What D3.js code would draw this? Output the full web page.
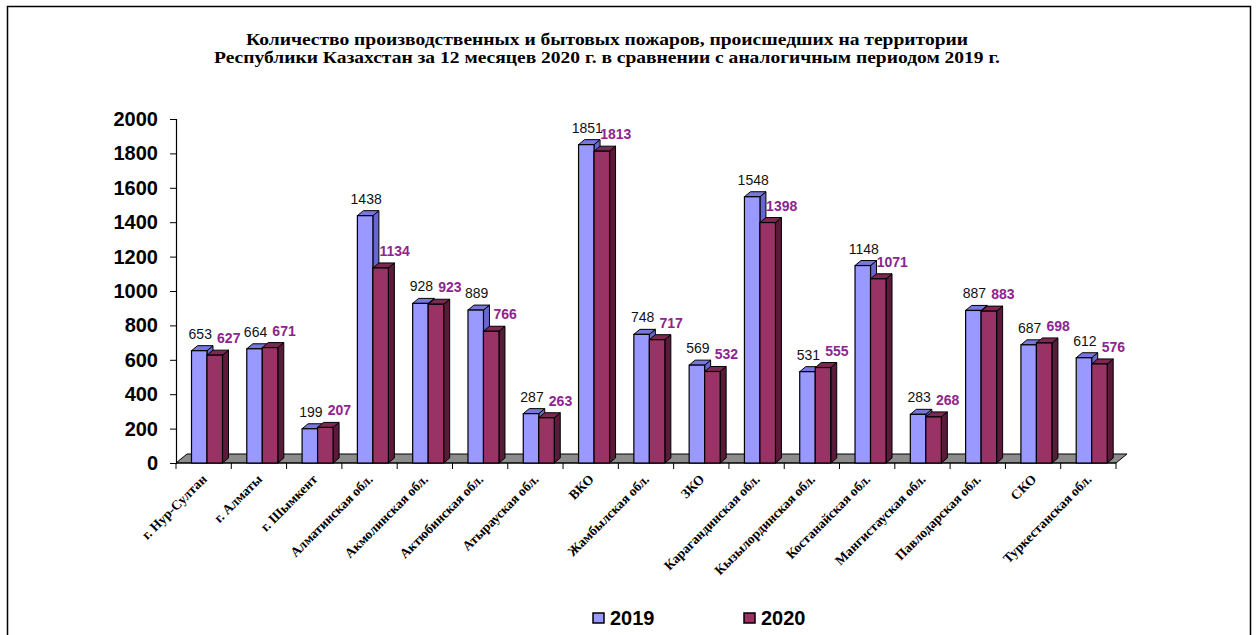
<!DOCTYPE html>
<html>
<head>
<meta charset="utf-8">
<script src="https://cdn.jsdelivr.net/npm/d3@7"></script>
<style>
  body { margin: 0; background: #fff; }
  svg { display: block; }
</style>
</head>
<body>
<div id="chart"></div>
<script>
'use strict';

// Daten
var regions = ["г. Нур-Султан", "г. Алматы", "г. Шымкент", "Алматинская обл.", "Акмолинская обл.",
    "Актюбинская обл.", "Атырауская обл.", "ВКО", "Жамбылская обл.", "ЗКО", "Карагандинская обл.",
    "Кызылординская обл.", "Костанайская обл.", "Мангистауская обл.", "Павлодарская обл.", "СКО",
    "Туркестанская обл."];
var fires2019 = [653, 664, 199, 1438, 928, 889, 287, 1851, 748, 569, 1548, 531, 1148, 283, 887, 687, 612];
var fires2020 = [627, 671, 207, 1134, 923, 766, 263, 1813, 717, 532, 1398, 555, 1071, 268, 883, 698, 576];
var seriesNames = ["2019", "2020"];
var yTicks = [0, 200, 400, 600, 800, 1000, 1200, 1400, 1600, 1800, 2000];

var width = 1256, height = 635;

var svg = d3.select("#chart")
    .append("svg")
    .attr("width", width)
    .attr("height", height);

// Rahmen (unten offen)
svg.append("path")
    .attr("d", "M7.5,640 L7.5,6.5 L1250.5,6.5 L1250.5,640")
    .attr("fill", "none")
    .attr("stroke", "#000")
    .attr("stroke-width", 1.5);

// Titel
var title = svg.append("g")
    .style("font-family", "'Liberation Serif', 'Times New Roman', serif")
    .style("font-weight", "bold")
    .style("font-size", "16px")
    .attr("text-anchor", "middle");

title.append("text")
    .attr("x", 607).attr("y", 45)
    .attr("textLength", 722).attr("lengthAdjust", "spacingAndGlyphs")
    .text("Количество производственных и бытовых пожаров, происшедших на территории");
title.append("text")
    .attr("x", 607).attr("y", 63)
    .attr("textLength", 786).attr("lengthAdjust", "spacingAndGlyphs")
    .text("Республики Казахстан за 12 месяцев 2020 г. в сравнении с аналогичным периодом 2019 г.");

var x0 = 176, x1 = 1116;
var x = d3.scaleBand()
    .domain(regions)
    .range([x0, x1])
    .padding(0);

var xInner = d3.scaleBand()
    .domain(seriesNames)
    .range([15.5, 46.5]);

var y = d3.scaleLinear()
    .domain([0, 2000])
    .range([463, 119]);

var depth = { dx: 6, dy: -5 };
var floorDepth = { dx: 11, dy: -9 };

var colors = {
    "2019": { front: "#9999FF", top: "#7777DD", side: "#6666CC" },
    "2020": { front: "#993366", top: "#7A2952", side: "#5A1A3A" }
};

// Boden
svg.append("polygon")
    .attr("points", [
        [x0, y(0)], [x1, y(0)],
        [x1 + floorDepth.dx, y(0) + floorDepth.dy],
        [x0 + floorDepth.dx, y(0) + floorDepth.dy]
    ].map(p => p.join(",")).join(" "))
    .attr("fill", "#8c8c8c")
    .attr("stroke", "#000")
    .attr("stroke-width", 1);

// Y-Achse
var yAxis = d3.axisLeft(y)
    .tickValues(yTicks)
    .tickFormat(d3.format("d"))
    .tickSize(6)
    .tickPadding(12);

var gy = svg.append("g")
    .attr("transform", "translate(" + x0 + ",0)")
    .call(yAxis);
gy.select(".domain").attr("stroke", "#000").attr("stroke-width", 1.2);
gy.selectAll(".tick line").attr("stroke", "#000");
gy.selectAll(".tick text")
    .style("font-family", "Arial, 'Liberation Sans', sans-serif")
    .style("font-weight", "bold")
    .style("font-size", "20px")
    .attr("fill", "#000");

// X-Achse
var gx = svg.append("g")
    .attr("transform", "translate(0," + y(0) + ")");

gx.append("line")
    .attr("x1", x0).attr("x2", x1)
    .attr("stroke", "#000");

gx.selectAll(".xtick")
    .data(regions.concat(["end"]))
    .enter().append("line")
    .attr("class", "xtick")
    .attr("x1", (d, i) => x0 + i * x.step())
    .attr("x2", (d, i) => x0 + i * x.step())
    .attr("y1", 0).attr("y2", 6)
    .attr("stroke", "#000");

gx.selectAll(".xlabel")
    .data(regions)
    .enter().append("text")
    .attr("class", "xlabel")
    .attr("transform", d => "translate(" + (x(d) + x.bandwidth() / 2 + 4) + ",17) rotate(-45)")
    .attr("text-anchor", "end")
    .style("font-family", "'Liberation Serif', 'Times New Roman', serif")
    .style("font-weight", "bold")
    .style("font-size", "13.5px")
    .text(d => d);

// Balken (3D)
var rows = regions.map((r, i) => ({ region: r, values: [
    { key: "2019", value: fires2019[i] },
    { key: "2020", value: fires2020[i] }
] }));

var groups = svg.append("g")
    .selectAll("g")
    .data(rows)
    .enter().append("g")
    .attr("transform", d => "translate(" + x(d.region) + ",0)");

function pts(a) {
    return a.map(p => p.join(",")).join(" ");
}

var bars = groups.selectAll("g.bar")
    .data(d => d.values)
    .enter().append("g")
    .attr("class", "bar");

bars.each(function (d) {
    var g = d3.select(this);
    var bx = xInner(d.key), bw = xInner.bandwidth();
    var top = y(d.value), bottom = y(0);
    var c = colors[d.key];

    // Seite
    g.append("polygon")
        .attr("points", pts([[bx + bw, top], [bx + bw + depth.dx, top + depth.dy],
            [bx + bw + depth.dx, bottom + depth.dy], [bx + bw, bottom]]))
        .attr("fill", c.side).attr("stroke", "#000").attr("stroke-width", 1);
    // Deckel
    g.append("polygon")
        .attr("points", pts([[bx, top], [bx + depth.dx, top + depth.dy],
            [bx + bw + depth.dx, top + depth.dy], [bx + bw, top]]))
        .attr("fill", c.top).attr("stroke", "#000").attr("stroke-width", 1);
    // Front
    g.append("rect")
        .attr("x", bx).attr("y", top)
        .attr("width", bw).attr("height", bottom - top)
        .attr("fill", c.front).attr("stroke", "#000").attr("stroke-width", 1.2);
});

// Beschriftungen
bars.append("text")
    .attr("x", d => xInner(d.key) + xInner.bandwidth() / 2 + (d.key === "2020" ? 14 : 1))
    .attr("y", d => y(d.value) - 12)
    .attr("text-anchor", "middle")
    .style("font-family", "Arial, 'Liberation Sans', sans-serif")
    .style("font-size", "14px")
    .style("font-weight", d => d.key === "2020" ? "bold" : "normal")
    .attr("fill", d => d.key === "2020" ? "#8E248E" : "#111")
    .text(d => d.value);

// Legende
var legend = svg.append("g")
    .selectAll("g")
    .data(seriesNames)
    .enter().append("g")
    .attr("transform", (d, i) => "translate(" + (593 + i * 151) + ",613)");

legend.append("rect")
    .attr("width", 11).attr("height", 10)
    .attr("fill", d => colors[d].front)
    .attr("stroke", "#000").attr("stroke-width", 1.5);

legend.append("text")
    .attr("x", 17).attr("y", 12)
    .style("font-family", "Arial, 'Liberation Sans', sans-serif")
    .style("font-weight", "bold")
    .style("font-size", "20px")
    .text(d => d);
</script>
</body>
</html>
